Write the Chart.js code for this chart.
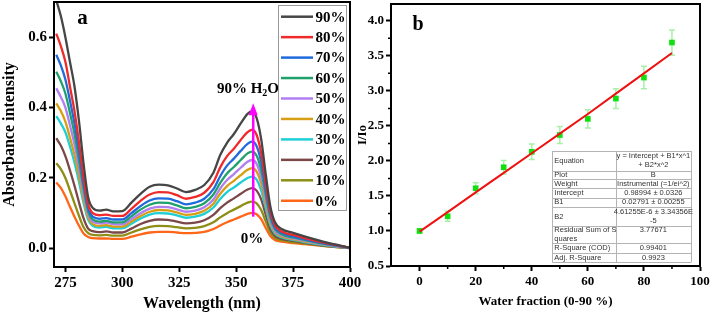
<!DOCTYPE html>
<html>
<head>
<meta charset="utf-8">
<script src="https://cdn.jsdelivr.net/npm/chart.js@4.4.1/dist/chart.umd.min.js"></script>
<style>
  html, body { margin: 0; padding: 0; background: #fff; }
  body { width: 710px; height: 313px; position: relative; overflow: hidden; }
  #absChart { position: absolute; left: 0; top: 0; }
  #fitChart { position: absolute; left: 355px; top: 0; }
</style>
</head>
<body>
<canvas id="absChart" width="368" height="313"></canvas>
<canvas id="fitChart" width="355" height="313"></canvas>
<script>
// ---- panel a: absorption spectra ----
const wavelengths = [271, 273, 275, 277, 279, 281, 283, 285, 287, 290, 293, 296, 300, 304, 308, 312, 316, 320, 324, 328, 332, 336, 340, 343, 346, 349, 352, 355, 357, 359, 361, 363, 365, 367, 370, 375, 380, 390, 400];

const abs90 = [0.705, 0.66, 0.60, 0.53, 0.46, 0.36, 0.24, 0.145, 0.115, 0.107, 0.110, 0.105, 0.106, 0.13, 0.155, 0.175, 0.181, 0.179, 0.170, 0.160, 0.166, 0.18, 0.215, 0.265, 0.30, 0.325, 0.355, 0.382, 0.39, 0.37, 0.31, 0.21, 0.12, 0.075, 0.055, 0.044, 0.034, 0.016, 0.002];
const abs80 = [0.61, 0.575, 0.53, 0.46, 0.39, 0.30, 0.20, 0.125, 0.10, 0.094, 0.096, 0.092, 0.092, 0.112, 0.135, 0.153, 0.160, 0.159, 0.151, 0.141, 0.146, 0.158, 0.188, 0.23, 0.262, 0.283, 0.308, 0.33, 0.337, 0.322, 0.27, 0.185, 0.105, 0.066, 0.048, 0.038, 0.029, 0.014, 0.002];
const abs70 = [0.55, 0.52, 0.48, 0.42, 0.355, 0.275, 0.185, 0.115, 0.09, 0.084, 0.086, 0.082, 0.082, 0.10, 0.12, 0.136, 0.142, 0.141, 0.134, 0.125, 0.13, 0.141, 0.168, 0.205, 0.235, 0.255, 0.277, 0.297, 0.303, 0.29, 0.245, 0.168, 0.097, 0.06, 0.044, 0.034, 0.026, 0.012, 0.002];
const abs60 = [0.502, 0.475, 0.44, 0.385, 0.325, 0.25, 0.17, 0.105, 0.082, 0.076, 0.078, 0.074, 0.074, 0.091, 0.11, 0.124, 0.13, 0.129, 0.122, 0.114, 0.118, 0.128, 0.153, 0.186, 0.213, 0.231, 0.251, 0.27, 0.275, 0.263, 0.222, 0.152, 0.088, 0.055, 0.04, 0.031, 0.024, 0.011, 0.002];
const abs50 = [0.455, 0.43, 0.40, 0.35, 0.295, 0.228, 0.155, 0.097, 0.076, 0.071, 0.073, 0.069, 0.068, 0.083, 0.10, 0.113, 0.118, 0.117, 0.111, 0.104, 0.107, 0.117, 0.139, 0.17, 0.194, 0.211, 0.229, 0.246, 0.251, 0.24, 0.202, 0.139, 0.08, 0.05, 0.037, 0.028, 0.022, 0.01, 0.002];
const abs40 = [0.412, 0.39, 0.36, 0.315, 0.265, 0.205, 0.14, 0.088, 0.069, 0.064, 0.066, 0.062, 0.062, 0.076, 0.092, 0.104, 0.109, 0.108, 0.102, 0.095, 0.098, 0.107, 0.127, 0.155, 0.177, 0.192, 0.208, 0.223, 0.228, 0.218, 0.184, 0.127, 0.073, 0.046, 0.034, 0.026, 0.02, 0.009, 0.002];
const abs30 = [0.376, 0.355, 0.33, 0.29, 0.243, 0.188, 0.128, 0.081, 0.064, 0.059, 0.061, 0.057, 0.057, 0.07, 0.085, 0.096, 0.10, 0.099, 0.094, 0.087, 0.09, 0.098, 0.116, 0.14, 0.16, 0.173, 0.187, 0.20, 0.204, 0.195, 0.165, 0.114, 0.066, 0.042, 0.031, 0.024, 0.018, 0.008, 0.001];
const abs20 = [0.313, 0.292, 0.262, 0.222, 0.178, 0.13, 0.085, 0.056, 0.049, 0.046, 0.048, 0.045, 0.045, 0.056, 0.069, 0.078, 0.082, 0.081, 0.076, 0.071, 0.073, 0.08, 0.095, 0.114, 0.13, 0.142, 0.155, 0.167, 0.171, 0.164, 0.139, 0.096, 0.056, 0.036, 0.027, 0.021, 0.016, 0.007, 0.001];
const abs10 = [0.242, 0.225, 0.20, 0.165, 0.128, 0.092, 0.06, 0.043, 0.038, 0.037, 0.038, 0.036, 0.036, 0.045, 0.054, 0.061, 0.064, 0.063, 0.06, 0.057, 0.058, 0.063, 0.074, 0.088, 0.10, 0.11, 0.12, 0.13, 0.133, 0.128, 0.109, 0.076, 0.045, 0.03, 0.023, 0.018, 0.014, 0.006, 0.001];
const abs0 = [0.187, 0.172, 0.148, 0.118, 0.09, 0.064, 0.042, 0.032, 0.029, 0.028, 0.028, 0.027, 0.027, 0.033, 0.04, 0.045, 0.047, 0.047, 0.045, 0.043, 0.044, 0.047, 0.055, 0.065, 0.074, 0.082, 0.09, 0.098, 0.101, 0.097, 0.083, 0.058, 0.035, 0.024, 0.019, 0.015, 0.012, 0.006, 0.001];

const waterLabels = ["90%", "80%", "70%", "60%", "50%", "40%", "30%", "20%", "10%", "0%"];
const spectra = [abs90, abs80, abs70, abs60, abs50, abs40, abs30, abs20, abs10, abs0];
const lineColors = ["#464646", "#f02a2a", "#1f6bdc", "#20a06c", "#b27ff0", "#d69e12", "#1ecfd6", "#7a4848", "#8e8e16", "#ff6618"];
const wavelengthTicks = [275, 300, 325, 350, 375, 400];
const absTicks = [0, 0.2, 0.4, 0.6];

// ---- panel b: I/Io vs water fraction ----
const waterFraction = [0, 10, 20, 30, 40, 50, 60, 70, 80, 90];
const ratio = [1.00, 1.21, 1.61, 1.91, 2.13, 2.37, 2.60, 2.89, 3.19, 3.69];
const ratioErr = [0.03, 0.07, 0.08, 0.095, 0.11, 0.12, 0.13, 0.14, 0.16, 0.18];
const fitLine = [0.99, 1.27, 1.55, 1.83, 2.11, 2.39, 2.67, 2.96, 3.25, 3.54];
const fractionTicks = [0, 20, 40, 60, 80, 100];
const fractionMinor = [10, 30, 50, 70, 90];
const ratioTicks = [0.5, 1.0, 1.5, 2.0, 2.5, 3.0, 3.5, 4.0];
const ratioMinor = [0.75, 1.25, 1.75, 2.25, 2.75, 3.25, 3.75];

const fitTable = [
  [["Equation"], ["y = Intercept + B1*x^1", "+ B2*x^2"]],
  [["Plot"], ["B"]],
  [["Weight"], ["Instrumental (=1/ei^2)"]],
  [["Intercept"], ["0.98994 ± 0.0326"]],
  [["B1"], ["0.02791 ± 0.00255"]],
  [["B2"], ["4.61255E-6 ± 3.34356E", "-5"]],
  [["Residual Sum of S", "quares"], ["3.77671"]],
  [["R-Square (COD)"], ["0.99401"]],
  [["Adj. R-Square"], ["0.9923"]],
];

const serif = "'Liberation Serif', 'Times New Roman', serif";
Chart.defaults.font.family = serif;
Chart.defaults.color = "#000";

// keep the plot box where the layout padding puts it (no room kept for edge labels)
const noEdgePadding = (scale) => {
  scale.paddingTop = 0;
  scale.paddingBottom = 0;
  scale.paddingLeft = 0;
  scale.paddingRight = 0;
};

const boxBorder = {
  id: "boxBorder",
  afterDraw(chart) {
    const { ctx, chartArea } = chart;
    ctx.save();
    ctx.strokeStyle = "#000";
    ctx.lineWidth = 2;
    ctx.beginPath();
    ctx.moveTo(chartArea.left, chartArea.top);
    ctx.lineTo(chartArea.right, chartArea.top);
    ctx.lineTo(chartArea.right, chartArea.bottom);
    ctx.stroke();
    ctx.restore();
  },
};

const spectraDecor = {
  id: "spectraDecor",
  afterDraw(chart) {
    const { ctx, scales: { x, y } } = chart;
    ctx.save();

    // arrow
    const ax = x.getPixelForValue(357.5);
    const tip = y.getPixelForValue(0.412);
    const base = y.getPixelForValue(0.09);
    ctx.strokeStyle = "#ff00ff";
    ctx.fillStyle = "#ff00ff";
    ctx.lineWidth = 2.5;
    ctx.beginPath();
    ctx.moveTo(ax, base);
    ctx.lineTo(ax, tip + 8);
    ctx.stroke();
    ctx.beginPath();
    ctx.moveTo(ax, tip);
    ctx.lineTo(ax - 4.5, tip + 12);
    ctx.lineTo(ax + 4.5, tip + 12);
    ctx.closePath();
    ctx.fill();

    // texts
    ctx.fillStyle = "#000";
    ctx.textBaseline = "middle";
    const big = "bold 15px " + serif;
    const small = "bold 10px " + serif;
    ctx.font = big;
    const w1 = ctx.measureText("90% H").width;
    const w3 = ctx.measureText("O").width;
    ctx.font = small;
    const w2 = ctx.measureText("2").width;
    const tx = x.getPixelForValue(355.2) - (w1 + w2 + w3) / 2;
    const ty = 89;
    ctx.textAlign = "left";
    ctx.font = big;
    ctx.fillText("90% H", tx, ty);
    ctx.font = small;
    ctx.fillText("2", tx + w1, ty + 4);
    ctx.font = big;
    ctx.fillText("O", tx + w1 + w2, ty);

    ctx.textAlign = "center";
    ctx.fillText("0%", x.getPixelForValue(357), 239);

    ctx.font = "bold 21px " + serif;
    ctx.fillText("a", 82.5, 19);

    // legend box
    ctx.fillStyle = "#fff";
    ctx.fillRect(278, 5, 68, 205);
    ctx.strokeStyle = "#9a9a9a";
    ctx.lineWidth = 1;
    ctx.strokeRect(278.5, 5.5, 68, 205);
    ctx.font = big;
    ctx.textAlign = "left";
    chart.data.datasets.forEach((ds, i) => {
      const ly = 16.7 + i * 20.45;
      ctx.strokeStyle = ds.borderColor;
      ctx.lineWidth = 2.5;
      ctx.beginPath();
      ctx.moveTo(281, ly);
      ctx.lineTo(313, ly);
      ctx.stroke();
      ctx.fillStyle = "#000";
      ctx.fillText(ds.label, 315.5, ly + 1);
    });
    ctx.restore();
  },
};

new Chart(document.getElementById("absChart"), {
  type: "line",
  data: {
    datasets: spectra.map((values, i) => ({
      label: waterLabels[i],
      data: wavelengths.map((w, j) => ({ x: w, y: values[j] })),
      borderColor: lineColors[i],
      borderWidth: 2.3,
      pointRadius: 0,
      cubicInterpolationMode: "monotone",
      fill: false,
    })),
  },
  options: {
    responsive: false,
    animation: false,
    layout: { padding: { top: 2, right: 18, left: 0, bottom: 0 } },
    plugins: { legend: { display: false }, tooltip: { enabled: false } },
    scales: {
      x: {
        type: "linear",
        min: 270,
        max: 400,
        afterBuildTicks: (scale) => { scale.ticks = wavelengthTicks.map((v) => ({ value: v })); },
        afterFit: (scale) => { scale.height = 46; noEdgePadding(scale); },
        grid: { drawOnChartArea: false, tickLength: 5, tickWidth: 2, tickColor: "#000" },
        border: { color: "#000", width: 2 },
        ticks: { padding: 2, font: { size: 15, weight: "bold" }, color: "#000" },
        title: { display: true, text: "Wavelength (nm)", padding: 0, font: { size: 16, weight: "bold" }, color: "#000" },
      },
      y: {
        min: -0.053,
        max: 0.70,
        afterBuildTicks: (scale) => { scale.ticks = absTicks.map((v) => ({ value: v })); },
        afterFit: (scale) => { scale.width = 54; noEdgePadding(scale); },
        grid: { drawOnChartArea: false, tickLength: 5, tickWidth: 2, tickColor: "#000" },
        border: { color: "#000", width: 2 },
        ticks: { padding: 2, font: { size: 15, weight: "bold" }, color: "#000", callback: (v) => v.toFixed(1) },
        title: { display: true, text: "Absorbance intensity", padding: 0, font: { size: 16, weight: "bold" }, color: "#000" },
      },
    },
  },
  plugins: [boxBorder, spectraDecor],
});

const errorBars = {
  id: "errorBars",
  beforeDatasetsDraw(chart) {
    const { ctx, scales: { x, y } } = chart;
    ctx.save();
    ctx.strokeStyle = "#a8f0a8";
    ctx.lineWidth = 1.5;
    waterFraction.forEach((w, i) => {
      const px = x.getPixelForValue(w);
      const top = y.getPixelForValue(ratio[i] + ratioErr[i]);
      const bot = y.getPixelForValue(ratio[i] - ratioErr[i]);
      ctx.beginPath();
      ctx.moveTo(px, top);
      ctx.lineTo(px, bot);
      ctx.moveTo(px - 3, top);
      ctx.lineTo(px + 3, top);
      ctx.moveTo(px - 3, bot);
      ctx.lineTo(px + 3, bot);
      ctx.stroke();
    });
    ctx.restore();
  },
};

const fitDecor = {
  id: "fitDecor",
  afterDraw(chart) {
    const { ctx, chartArea, scales: { x, y } } = chart;
    ctx.save();
    // minor ticks
    ctx.strokeStyle = "#000";
    ctx.lineWidth = 1.5;
    ctx.beginPath();
    fractionMinor.forEach((v) => {
      const px = x.getPixelForValue(v);
      ctx.moveTo(px, chartArea.bottom);
      ctx.lineTo(px, chartArea.bottom + 3);
    });
    ratioMinor.forEach((v) => {
      const py = y.getPixelForValue(v);
      ctx.moveTo(chartArea.left, py);
      ctx.lineTo(chartArea.left - 3, py);
    });
    ctx.stroke();

    ctx.fillStyle = "#000";
    ctx.font = "bold 20px " + serif;
    ctx.textAlign = "center";
    ctx.textBaseline = "middle";
    ctx.fillText("b", 63, 25);

    // fit table
    const left = 197.3, mid = 260.7, right = 336;
    const rows = [151, 170.7, 179, 188.3, 197.7, 207, 226, 243.3, 252.7, 262.3];
    ctx.fillStyle = "#fff";
    ctx.fillRect(left, rows[0], right - left, rows[rows.length - 1] - rows[0]);
    ctx.strokeStyle = "#b4b4b4";
    ctx.lineWidth = 1;
    ctx.beginPath();
    rows.forEach((ry) => {
      ctx.moveTo(left, Math.round(ry) + 0.5);
      ctx.lineTo(right, Math.round(ry) + 0.5);
    });
    [left, mid, right].forEach((cx) => {
      ctx.moveTo(Math.round(cx) + 0.5, rows[0]);
      ctx.lineTo(Math.round(cx) + 0.5, rows[rows.length - 1]);
    });
    ctx.stroke();

    ctx.font = "7.5px 'Liberation Sans', Arial, sans-serif";
    ctx.fillStyle = "#333";
    const lh = 9;
    fitTable.forEach(([name, value], i) => {
      const cy = (rows[i] + rows[i + 1]) / 2;
      const start = (lines) => cy - ((lines.length - 1) * lh) / 2;
      ctx.textAlign = "left";
      name.forEach((t, k) => ctx.fillText(t, left + 2, start(name) + k * lh));
      ctx.textAlign = "center";
      const vStart = name.length > value.length ? start(name) : start(value);
      value.forEach((t, k) => ctx.fillText(t, (mid + right) / 2, vStart + k * lh));
    });
    ctx.restore();
  },
};

new Chart(document.getElementById("fitChart"), {
  type: "scatter",
  data: {
    datasets: [
      {
        label: "Fit",
        data: waterFraction.map((w, i) => ({ x: w, y: fitLine[i] })),
        showLine: true,
        borderColor: "#f01010",
        borderWidth: 2,
        pointRadius: 0,
      },
      {
        label: "I/Io",
        data: waterFraction.map((w, i) => ({ x: w, y: ratio[i] })),
        pointStyle: "rect",
        pointRadius: 4,
        pointBackgroundColor: "#10e010",
        pointBorderWidth: 0,
        borderColor: "#10e010",
      },
    ],
  },
  options: {
    responsive: false,
    animation: false,
    layout: { padding: { top: 4, right: 10, left: 0, bottom: 0 } },
    plugins: { legend: { display: false }, tooltip: { enabled: false } },
    scales: {
      x: {
        type: "linear",
        min: -10.2,
        max: 100,
        afterBuildTicks: (scale) => { scale.ticks = fractionTicks.map((v) => ({ value: v })); },
        afterFit: (scale) => { scale.height = 47; noEdgePadding(scale); },
        grid: { drawOnChartArea: false, tickLength: 5, tickWidth: 2, tickColor: "#000" },
        border: { color: "#000", width: 2 },
        ticks: { padding: 3, font: { size: 13, weight: "bold" }, color: "#000" },
        title: { display: true, text: "Water fraction (0-90 %)", padding: { top: 0, bottom: 4 }, font: { size: 13, weight: "bold" }, color: "#000" },
      },
      y: {
        min: 0.5,
        max: 4.24,
        afterBuildTicks: (scale) => { scale.ticks = ratioTicks.map((v) => ({ value: v })); },
        afterFit: (scale) => { scale.width = 36; noEdgePadding(scale); },
        grid: { drawOnChartArea: false, tickLength: 5, tickWidth: 2, tickColor: "#000" },
        border: { color: "#000", width: 2 },
        ticks: { padding: 2, font: { size: 13, weight: "bold" }, color: "#000", callback: (v) => v.toFixed(1) },
        title: { display: true, text: "I/Io", padding: 0, font: { size: 13, weight: "bold" }, color: "#000" },
      },
    },
  },
  plugins: [errorBars, boxBorder, fitDecor],
});
</script>
</body>
</html>
